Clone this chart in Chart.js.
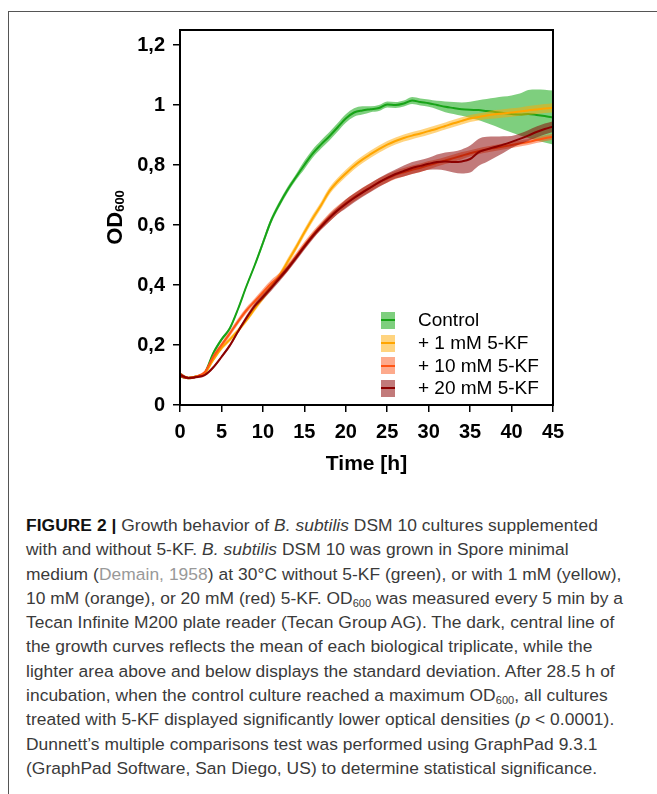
<!DOCTYPE html>
<html>
<head>
<meta charset="utf-8">
<script src="https://cdn.jsdelivr.net/npm/chart.js@4/dist/chart.umd.min.js"></script>
<style>
html,body{margin:0;padding:0;background:#fff}
body{width:657px;height:794px;position:relative;overflow:hidden;font-family:'Liberation Sans',Arial,sans-serif}
.frame{position:absolute;left:8px;top:11px;width:700px;height:800px;border-left:1px solid #555;border-top:1px solid #555}
.wrap{position:absolute;left:0;top:0;width:657px;height:490px}
.legend{position:absolute;left:381px;top:309px;font-size:19px;color:#000}
.legend .row{display:flex;align-items:center;height:22.7px;white-space:nowrap}
.sw{width:14px;height:17px;position:relative;margin-right:23px}
.sw i{position:absolute;left:0;right:0;top:7.5px;height:2px}
.caption{position:absolute;left:26px;top:513px;font-size:17.4px;letter-spacing:0.05px;line-height:24.3px;color:#3a3a3a;white-space:nowrap}
.caption b{color:#111}
.caption .ref{color:#999}
.caption sub{font-size:11px;vertical-align:-3px;line-height:0}
</style>
</head>
<body>
<div class="frame"></div>
<div class="wrap"><canvas id="growth" role="img" aria-label="OD600 growth curves of B. subtilis with and without 5-KF"></canvas></div>
<div class="legend" id="legend"></div>
<div class="caption"><b>FIGURE 2 |</b> Growth behavior of <i>B. subtilis</i> DSM 10 cultures supplemented<br>
with and without 5-KF. <i>B. subtilis</i> DSM 10 was grown in Spore minimal<br>
medium (<span class="ref">Demain, 1958</span>) at 30°C without 5-KF (green), or with 1 mM (yellow),<br>
10 mM (orange), or 20 mM (red) 5-KF. OD<sub>600</sub> was measured every 5 min by a<br>
Tecan Infinite M200 plate reader (Tecan Group AG). The dark, central line of<br>
the growth curves reflects the mean of each biological triplicate, while the<br>
lighter area above and below displays the standard deviation. After 28.5 h of<br>
incubation, when the control culture reached a maximum OD<sub>600</sub>, all cultures<br>
treated with 5-KF displayed significantly lower optical densities (<i>p</i> &lt; 0.0001).<br>
Dunnett’s multiple comparisons test was performed using GraphPad 9.3.1<br>
(GraphPad Software, San Diego, US) to determine statistical significance.</div>
<script>
// time in hours, one reading per hour
const TIME = [0,1,2,3,4,5,6,7,8,9,10,11,12,13,14,15,16,17,18,19,20,21,22,23,24,25,26,27,28,29,30,31,32,33,34,35,36,37,38,39,40,41,42,43,44,45]

const LABELS = ['Control','+ 1 mM 5-KF','+ 10 mM 5-KF','+ 20 mM 5-KF']

// mean OD600
const CONTROL = [0.100,0.090,0.095,0.108,0.172,0.218,0.255,0.320,0.395,0.465,0.540,0.615,0.670,0.718,0.760,0.800,0.838,0.868,0.895,0.925,0.955,0.975,0.982,0.986,0.990,1.002,1.000,1.005,1.015,1.010,1.006,1.000,0.994,0.990,0.986,0.984,0.983,0.980,0.977,0.973,0.970,0.968,0.970,0.967,0.963,0.958]
const KF1 = [0.100,0.090,0.095,0.106,0.150,0.190,0.218,0.248,0.282,0.320,0.358,0.395,0.432,0.478,0.525,0.575,0.622,0.665,0.712,0.745,0.772,0.797,0.818,0.836,0.853,0.868,0.880,0.890,0.898,0.905,0.913,0.921,0.930,0.939,0.947,0.955,0.960,0.965,0.969,0.972,0.975,0.978,0.982,0.985,0.988,0.991]
const KF10 = [0.100,0.090,0.095,0.110,0.160,0.200,0.238,0.278,0.315,0.345,0.375,0.405,0.428,0.458,0.495,0.532,0.566,0.597,0.625,0.650,0.672,0.692,0.710,0.726,0.742,0.755,0.767,0.776,0.784,0.791,0.799,0.807,0.815,0.823,0.831,0.839,0.846,0.852,0.857,0.862,0.867,0.872,0.877,0.883,0.889,0.894]
const KF20 = [0.100,0.090,0.093,0.100,0.125,0.160,0.198,0.245,0.290,0.330,0.360,0.390,0.422,0.455,0.490,0.527,0.562,0.593,0.622,0.648,0.670,0.690,0.708,0.725,0.742,0.757,0.770,0.780,0.790,0.797,0.804,0.810,0.812,0.810,0.812,0.820,0.842,0.852,0.860,0.868,0.877,0.887,0.898,0.910,0.920,0.928]

// standard deviation
const CONTROL_SD = [0.008,0.004,0.004,0.004,0.006,0.006,0.006,0.006,0.006,0.006,0.010,0.010,0.010,0.010,0.010,0.014,0.014,0.014,0.014,0.014,0.014,0.014,0.014,0.010,0.010,0.010,0.010,0.010,0.012,0.012,0.012,0.014,0.018,0.020,0.022,0.027,0.033,0.040,0.047,0.055,0.062,0.070,0.080,0.085,0.088,0.090]
const KF1_SD = [0.008,0.004,0.004,0.004,0.006,0.008,0.008,0.008,0.008,0.008,0.010,0.010,0.010,0.012,0.012,0.012,0.012,0.012,0.012,0.012,0.012,0.012,0.012,0.012,0.012,0.012,0.012,0.012,0.012,0.012,0.012,0.012,0.012,0.012,0.012,0.012,0.012,0.012,0.014,0.014,0.014,0.014,0.015,0.015,0.015,0.015]
const KF10_SD = [0.008,0.004,0.004,0.004,0.008,0.008,0.010,0.010,0.010,0.010,0.012,0.012,0.012,0.012,0.012,0.012,0.012,0.012,0.014,0.014,0.014,0.014,0.014,0.014,0.014,0.014,0.014,0.014,0.014,0.014,0.014,0.012,0.012,0.012,0.012,0.010,0.010,0.010,0.010,0.010,0.010,0.010,0.010,0.010,0.010,0.010]
const KF20_SD = [0.008,0.004,0.004,0.004,0.005,0.005,0.006,0.006,0.008,0.008,0.010,0.010,0.010,0.010,0.010,0.010,0.010,0.010,0.012,0.012,0.015,0.015,0.015,0.015,0.015,0.015,0.015,0.018,0.020,0.020,0.020,0.025,0.030,0.035,0.040,0.045,0.045,0.042,0.035,0.028,0.020,0.018,0.018,0.018,0.018,0.018]

const X_TICKS = [0,5,10,15,20,25,30,35,40,45]
const Y_TICKS = [0,0.2,0.4,0.6,0.8,1,1.2]
const Y_LABELS = ['0','0,2','0,4','0,6','0,8','1','1,2']

const SERIES = [
  {label:LABELS[0],mean:CONTROL,sd:CONTROL_SD,line:'#17a317',band:'rgba(40,175,40,0.6)'},
  {label:LABELS[1],mean:KF1,sd:KF1_SD,line:'#ffa500',band:'rgba(255,170,0,0.5)'},
  {label:LABELS[2],mean:KF10,sd:KF10_SD,line:'#ff5514',band:'rgba(252,85,25,0.5)'},
  {label:LABELS[3],mean:KF20,sd:KF20_SD,line:'#8b0000',band:'rgba(139,0,0,0.52)'},
]

const FONT = "'Liberation Sans', Arial, sans-serif"

const datasets = []
SERIES.forEach((s,g)=>{
  const base = 100 - g*10
  datasets.push({label:s.label+' lo',data:TIME.map((t,i)=>({x:t,y:s.mean[i]-s.sd[i]})),borderWidth:0,pointRadius:0,fill:false,order:base,cubicInterpolationMode:'monotone'})
  datasets.push({label:s.label+' hi',data:TIME.map((t,i)=>({x:t,y:s.mean[i]+s.sd[i]})),borderWidth:0,pointRadius:0,fill:'-1',backgroundColor:s.band,order:base,cubicInterpolationMode:'monotone'})
  datasets.push({label:s.label,data:TIME.map((t,i)=>({x:t,y:s.mean[i]})),borderColor:s.line,borderWidth:2,pointRadius:0,fill:false,order:base-5,cubicInterpolationMode:'monotone'})
})

// plot frame + y title with subscript
const framePlugin = {
  id:'frame',
  afterDraw(chart){
    const {ctx,chartArea:a} = chart
    ctx.save()
    ctx.strokeStyle='#000'; ctx.lineWidth=2
    ctx.strokeRect(a.left,a.top,a.right-a.left,a.bottom-a.top)
    ctx.translate(122,(a.top+a.bottom)/2)
    ctx.rotate(-Math.PI/2)
    ctx.fillStyle='#000'; ctx.textBaseline='alphabetic'
    ctx.font='bold 22px '+FONT
    const w1=ctx.measureText('OD').width
    ctx.font='bold 13px '+FONT
    const w2=ctx.measureText('600').width
    const x0=-(w1+w2)/2
    ctx.font='bold 22px '+FONT; ctx.fillText('OD',x0,0)
    ctx.font='bold 13px '+FONT; ctx.fillText('600',x0+w1,2)
    ctx.restore()
  }
}

new Chart(document.getElementById('growth'),{
  type:'line',
  data:{datasets},
  plugins:[framePlugin],
  options:{
    responsive:true,maintainAspectRatio:false,animation:false,
    layout:{padding:{left:0,right:104,top:30,bottom:0}},
    plugins:{legend:{display:false},tooltip:{enabled:false}},
    scales:{
      x:{
        type:'linear',min:0,max:45,
        afterFit(s){s.height=85},
        afterBuildTicks(s){s.ticks=X_TICKS.map(v=>({value:v}))},
        ticks:{color:'#000',font:{family:FONT,size:20,weight:'bold'},padding:8,maxRotation:0,autoSkip:false},
        grid:{drawOnChartArea:false,drawTicks:true,tickLength:7,color:'#000',lineWidth:1.5},
        border:{display:true,color:'#000',width:2},
        title:{display:true,text:'Time [h]',color:'#000',font:{family:FONT,size:21,weight:'bold'},padding:{top:0,bottom:13}}
      },
      y:{
        min:0,max:1.25,
        afterFit(s){s.width=180},
        afterBuildTicks(s){s.ticks=Y_TICKS.map(v=>({value:v}))},
        ticks:{color:'#000',font:{family:FONT,size:20,weight:'bold'},padding:8,callback:(v,i)=>Y_LABELS[i]},
        grid:{drawOnChartArea:false,drawTicks:true,tickLength:7,color:'#000',lineWidth:1.5},
        border:{display:true,color:'#000',width:2}
      }
    }
  }
})

document.getElementById('legend').innerHTML = SERIES.map(s=>
  `<div class="row"><div class="sw" style="background:${s.band}"><i style="background:${s.line}"></i></div>${s.label}</div>`
).join('')
</script>
</body>
</html>
